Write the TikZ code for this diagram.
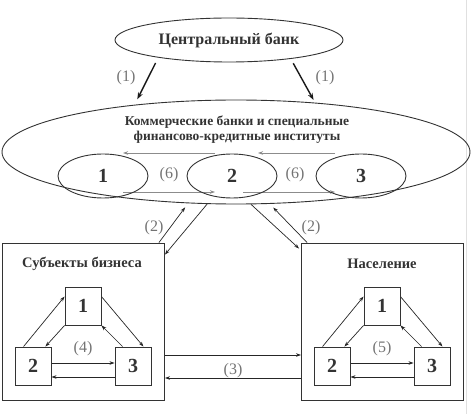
\documentclass[tikz,border=0pt]{standalone}
\usepackage{fontspec}
\setmainfont{Liberation Serif}
\usetikzlibrary{shapes.geometric,arrows.meta}
\pgfdeclarelayer{bg}
\pgfsetlayers{bg,main}
\tikzset{
    every node/.style={inner sep=0mm, draw=black!80, line width=0.9pt}
}
\tikzset{
    bank/.style={ellipse, font=\bfseries\fontsize{16}{19}\selectfont, text=black!80},
    unit/.style={ellipse, minimum width=90pt, minimum height=44pt, font=\bfseries\fontsize{20}{22}\selectfont, text=black!80},
    sector/.style={rectangle, minimum width=162pt, minimum height=157pt},
    member/.style={rectangle, minimum width=36pt, minimum height=38pt, font=\bfseries\fontsize{20}{22}\selectfont, text=black!80},
    heading/.style={draw=none, align=center, font=\bfseries\fontsize{14.5}{17}\selectfont, text=black!80},
    tag/.style={draw=none, text=black!55, font=\fontsize{16}{18}\selectfont},
    link/.style={-{Stealth[length=5pt, width=3.5pt]}, line width=0.7pt, draw=black!85},
    fed/.style={-{Stealth[length=7pt, width=5pt]}, line width=1.4pt, draw=black!90},
    swap/.style={link, draw=black!45}
}

\begin{document}
\begin{tikzpicture}[x=1pt, y=-1pt]
    \useasboundingbox (0,0) rectangle (474,414);
    \draw [black!12, line width=0.6pt] (466,0) -- (466,414);

    \node (cb) [bank, minimum width=228pt, minimum height=44pt] at (229, 40) {Центральный банк};
    \node (kb) [bank, minimum width=468pt, minimum height=104pt] at (236, 152) {};
    \node (kbt) [heading, font=\bfseries\fontsize{13.5}{15}\selectfont] at (237, 129.5) {Коммерческие банки и специальные\\финансово-кредитные институты};
    \node (e1) [unit] at (103, 176) {1};
    \node (e2) [unit] at (232, 176) {2};
    \node (e3) [unit] at (361, 176) {3};

    \node (bus) [sector] at (83.5, 321.5) {};
    \node (bust) [heading] at (82, 264) {Субъекты бизнеса};
    \node (s1) [member] at (83, 306) {1};
    \node (s2) [member] at (33, 366) {2};
    \node (s3) [member] at (133, 366) {3};

    \node (pop) [sector] at (382.5, 321.5) {};
    \node (popt) [heading] at (382, 264) {Население};
    \node (n1) [member] at (382, 306) {1};
    \node (n2) [member] at (332, 366) {2};
    \node (n3) [member] at (432, 366) {3};

    \node (l1a) [tag] at (126, 78) {(1)};
    \node (l1b) [tag] at (325, 78) {(1)};
    \node (l6a) [tag] at (169, 175) {(6)};
    \node (l6b) [tag] at (295, 175) {(6)};
    \node (l2a) [tag] at (154, 228) {(2)};
    \node (l2b) [tag] at (311, 228) {(2)};
    \node (l3) [tag] at (233, 371) {(3)};
    \node (l4) [tag] at (83, 349) {(4)};
    \node (l5) [tag] at (382, 349) {(5)};

    \begin{pgfonlayer}{bg}
        \draw [fed, shorten <=6pt, shorten >=6pt] (cb.194) -- (kb.155);
        \draw [fed, shorten <=5pt, shorten >=3pt] (cb.343) -- (kb.32);

        \draw [swap] ([shift={(-17,-23)}]e2.center) -- ([shift={(20,-23)}]e1.center);
        \draw [swap] ([shift={(-26,-23)}]e3.center) -- ([shift={(26,-23)}]e2.center);
        \draw [swap] ([shift={(20,16)}]e1.center) -- ([shift={(-17,16)}]e2.center);
        \draw [swap] ([shift={(11,16)}]e2.center) -- ([shift={(-26,16)}]e3.center);

        \draw [link, shorten >=5pt] ([xshift=-6pt]bus.north east) -- (kb.227);
        \draw [link] (kb.241) -- ([yshift=-12pt]bus.north east);
        \draw [link] (kb.286) -- ([xshift=-2pt, yshift=-6pt]pop.north west);
        \draw [link, shorten >=5pt] ([xshift=6pt]pop.north west) -- (kb.303);

        \draw [link] ([yshift=-33.5pt]bus.east) -- ([yshift=-33.5pt]pop.west);
        \draw [link] ([yshift=-56.5pt]pop.west) -- ([yshift=-56.5pt]bus.east);

        \draw [link] ([xshift=9pt]s2.north west) -- ([yshift=-10pt]s1.north west);
        \draw [link] (s1.south west) -- ([xshift=-6pt]s2.north east);
        \draw [link] ([yshift=-10pt]s1.north east) -- ([xshift=-8pt]s3.north east);
        \draw [link] ([xshift=8pt]s3.north west) -- (s1.south east);
        \draw [link] ([yshift=3pt]s2.east) -- ([yshift=3pt]s3.west);
        \draw [link] ([yshift=-11pt]s3.west) -- ([yshift=-11pt]s2.east);

        \draw [link] ([xshift=9pt]n2.north west) -- ([yshift=-10pt]n1.north west);
        \draw [link] (n1.south west) -- ([xshift=-6pt]n2.north east);
        \draw [link] ([yshift=-10pt]n1.north east) -- ([xshift=-8pt]n3.north east);
        \draw [link] ([xshift=8pt]n3.north west) -- (n1.south east);
        \draw [link] ([yshift=3pt]n2.east) -- ([yshift=3pt]n3.west);
        \draw [link] ([yshift=-11pt]n3.west) -- ([yshift=-11pt]n2.east);
    \end{pgfonlayer}
\end{tikzpicture}
\end{document}
